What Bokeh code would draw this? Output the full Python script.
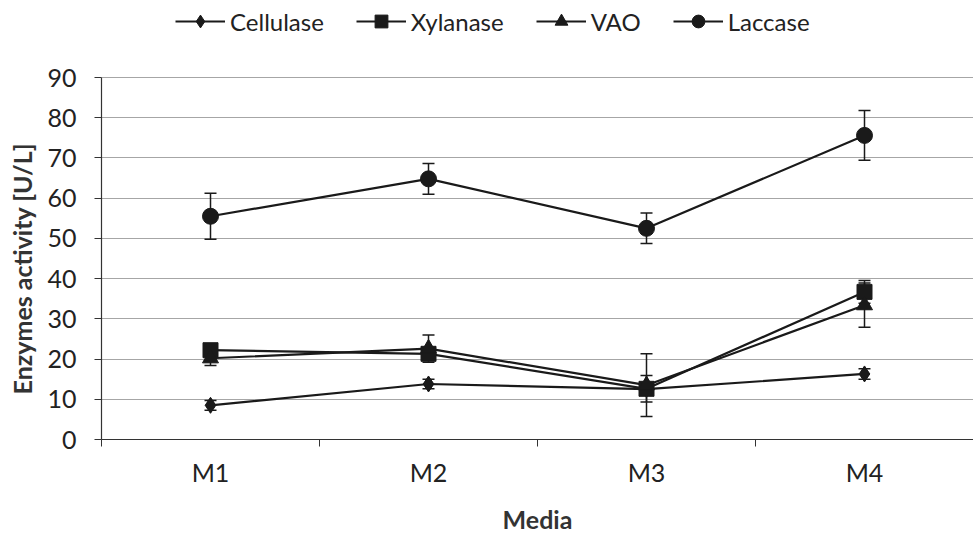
from bokeh.plotting import figure
from bokeh.models import (ColumnDataSource, Whisker, TeeHead, FixedTicker, Legend,
                          LegendItem, Range1d)
from bokeh.embed import file_html
from bokeh.resources import INLINE

media = ["M1", "M2", "M3", "M4"]
cellulase = [8.5, 13.8, 12.5, 16.3]
cellulase_err = [1.2, 1.2, 0.6, 1.3]
xylanase = [22.2, 21.3, 12.6, 36.7]
xylanase_err = [1.0, 1.0, 3.3, 2.8]
vao = [20.2, 22.6, 13.5, 33.4]
vao_err = [1.8, 3.4, 7.8, 5.5]
laccase = [55.5, 64.8, 52.5, 75.6]
laccase_err = [5.7, 3.8, 3.8, 6.2]
y_ticks = [0, 10, 20, 30, 40, 50, 60, 70, 80, 90]

FONT = "Lato"
INK = "#1a1a1a"
xpos = [i + 1 for i in range(len(media))]

# frame spans from the top of the page down to the x axis; the region above
# the 90 line holds the legend
FRAME_H = 439
AXIS_TOP = y_ticks[-1]
y_end = AXIS_TOP * FRAME_H / 362

p = figure(frame_width=872, frame_height=FRAME_H, output_backend="svg", toolbar_location=None,
           x_range=Range1d(0.5, len(media) + 0.5), y_range=Range1d(0, y_end),
           min_border_left=101, min_border_right=0, min_border_top=0, min_border_bottom=90)
p.outline_line_color = None
p.background_fill_color = "white"

series = [
    ("Cellulase", cellulase, cellulase_err, "diamond", 16, 14),
    ("Xylanase", xylanase, xylanase_err, "square", 15, 11),
    ("VAO", vao, vao_err, "triangle", 16, 13),
    ("Laccase", laccase, laccase_err, "circle", 16, 12),
]

items = []
for name, vals, errs, marker, size, lsize in series:
    src = ColumnDataSource(dict(x=xpos, y=vals,
                                lo=[v - e for v, e in zip(vals, errs)],
                                hi=[v + e for v, e in zip(vals, errs)]))
    ln = p.line("x", "y", source=src, line_color=INK, line_width=2.2)
    # smaller copy of the markers (hidden beneath the real ones) sets the legend swatch size
    small = p.scatter("x", "y", source=src, marker=marker, size=lsize,
                      fill_color=INK, line_color=INK)
    w = Whisker(source=src, base="x", lower="lo", upper="hi", dimension="height",
                line_color=INK, line_width=1.5,
                lower_head=TeeHead(size=12, line_color=INK, line_width=1.5),
                upper_head=TeeHead(size=12, line_color=INK, line_width=1.5))
    p.add_layout(w)
    p.scatter("x", "y", source=src, marker=marker, size=size,
              fill_color=INK, line_color=INK)
    items.append(LegendItem(label=name, renderers=[ln, small]))

legend = Legend(items=items, orientation="horizontal", location=(74, 402),
                label_text_font=FONT, label_text_font_size="24px",
                label_text_color="#222222", glyph_width=50, glyph_height=32,
                spacing=32, padding=0, margin=0, border_line_color=None,
                background_fill_alpha=0, label_standoff=5)
p.add_layout(legend)

p.xgrid.visible = False
p.ygrid.grid_line_color = "#a6a6a6"
p.ygrid.grid_line_width = 1.2
p.ygrid.ticker = FixedTicker(ticks=y_ticks[1:])

p.yaxis.ticker = FixedTicker(ticks=y_ticks)
p.yaxis.bounds = (y_ticks[0], y_ticks[-1])
# non-breaking padding shifts the centred title down to the middle of the 0-90 span
p.yaxis.axis_label = "Enzymes activity [U/L]" + "\u00a0" * 16
p.yaxis.major_tick_out = 7
p.yaxis.major_tick_in = 0
p.yaxis.major_label_standoff = 18

p.xaxis.ticker = FixedTicker(ticks=xpos, minor_ticks=[x - 0.5 for x in xpos] + [xpos[-1] + 0.5])
p.xaxis.major_label_overrides = {x: m for x, m in zip(xpos, media)}
p.xaxis.axis_label = "Media"
p.xaxis.major_tick_out = 0
p.xaxis.major_tick_in = 0
p.xaxis.minor_tick_out = 7
p.xaxis.minor_tick_in = 0
p.xaxis.major_label_standoff = 10

for ax in (p.xaxis, p.yaxis):
    ax.axis_line_color = "#333333"
    ax.axis_line_width = 1.2
    ax.major_tick_line_color = "#333333"
    ax.major_label_text_font = FONT
    ax.major_label_text_font_size = "25px"
    ax.major_label_text_color = "#222222"
    ax.axis_label_text_font = FONT
    ax.axis_label_text_font_size = "25px"
    ax.axis_label_text_font_style = "bold"
    ax.axis_label_text_color = "#333333"
p.xaxis.minor_tick_line_color = "#333333"
p.yaxis.minor_tick_line_color = None
p.xaxis.axis_label_standoff = 14
p.yaxis.axis_label_standoff = 7

open("out.html", "w").write(file_html(p, INLINE))
